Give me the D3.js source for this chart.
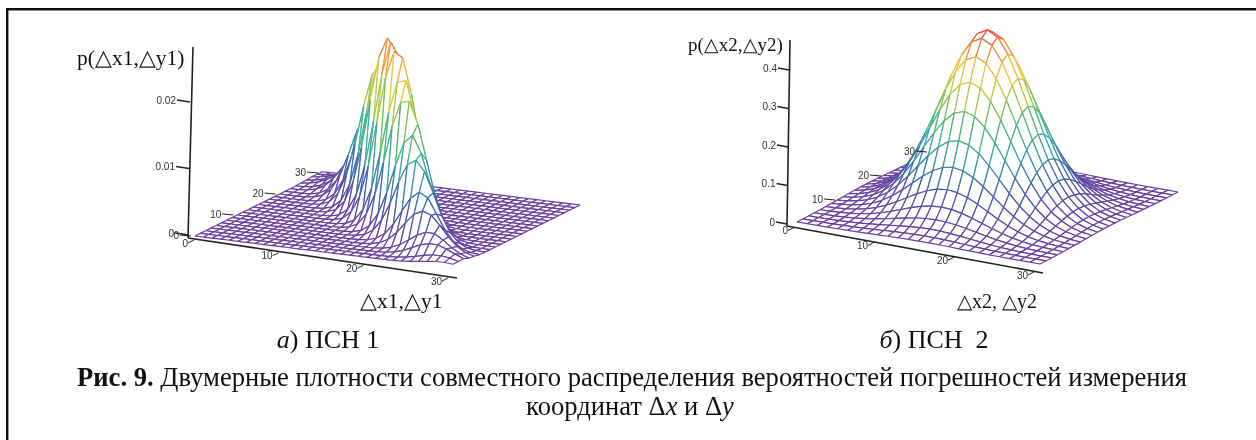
<!DOCTYPE html>
<html>
<head>
<meta charset="utf-8">
<script src="https://cdn.jsdelivr.net/npm/d3@7"></script>
<style>
  html, body { margin: 0; background: #fff; }
  svg { display: block; filter: blur(0.45px); }
  .tick { font: 10px "Liberation Sans", sans-serif; fill: #333; }
  .title { font-family: "Liberation Serif", serif; fill: #111; }
</style>
</head>
<body>
<div id="chart"></div>
<script>
// height profiles (share of the peak height)
// left surface: narrow ridge along the anti-diagonal, half-unit steps from its crest
const across1 = [1, .977, .91, .81, .69, .555, .43, .315, .22, .148, .095, .058, .034, .019, .01, .005, .002, .001];
const along1 = [1, .999, .995, .989, .98, .969, .956, .94, .923, .904, .882, .86, .835, .81, .783, .755,
  .726, .697, .667, .637, .607, .576, .546, .516, .487, .458, .43, .402, .375, .35, .325, .3,
  .278, .256, .236, .216, .198, .18, .164, .149, .135, .122, .11, .099, .089, .08, .071, .063,
  .056, .05, .044, .039, .034, .03, .026, .023, .02, .017, .015, .013, .011, .01, .008, .007, .006];
// right surface: round dome, one value per mesh line in each direction
const profileX2 = [.011, .023, .044, .08, .135, .216, .325, .458, .607, .755, .882, .969, 1,
  .969, .882, .755, .607, .458, .325, .216, .135, .08, .044, .023, .011];
const profileY2 = [.011, .023, .044, .08, .135, .216, .325, .458, .607, .755, .882, .969, 1,
  .969, .882, .755, .607, .458, .325, .216, .135, .08, .044, .023, .011];

const peak1 = 0.028;
const peak2 = 0.46;
const gridTicks = [0, 10, 20, 30];
const yTicks2 = [10, 20, 30];
const zTicks1 = [0, 0.01, 0.02];
const zTicks2 = [0, 0.1, 0.2, 0.3, 0.4];
const gridRange = 30;

// height -> colour, same ramp as the Mathcad surface
const colorRamp = ['#6a3d9e', '#5c4aa6', '#3f62aa', '#3a8fb0', '#3db59a', '#55b864', '#a3c94a', '#e8d040', '#f59a3c', '#e8493c'];

const svg = d3.select('#chart').append('svg')
  .attr('width', 1256)
  .attr('height', 440);

svg.append('path')
  .attr('d', 'M7.2,440V9.2H1256')
  .attr('fill', 'none')
  .attr('stroke', '#111')
  .attr('stroke-width', 2.4);

const nx1 = 30, ny1 = 24;
const nx2 = profileX2.length - 1, ny2 = profileY2.length - 1;

const heights1 = d3.range(nx1 + 1).map(i => d3.range(ny1 + 1).map(j => {
  let u = i * gridRange / nx1, v = j * gridRange / ny1;
  let a = across1[Math.round(2 * Math.abs(u + v - 30))] || 0;
  let b = along1[Math.round(2 * Math.abs(u - v - 2))];
  return peak1 * a * b;
}));
const heights2 = profileX2.map(px => profileY2.map(py => peak2 * px * py));

function drawPlot(cfg) {
  let g = svg.append('g').attr('class', 'plot');
  let sx = d3.scaleLinear().domain([0, cfg.nx]).range(cfg.xEdge);
  let sy = d3.scaleLinear().domain([0, cfg.ny]).range(cfg.yEdge);
  let sz = d3.scaleLinear().domain([0, cfg.zUnit]).range([0, cfg.zPixels]);
  let color = d3.scaleLinear()
    .domain(colorRamp.map((c, k) => k / (colorRamp.length - 1) * cfg.peak))
    .range(colorRamp);

  let project = (i, j) => {
    let ax = sx(i)[0], ay = sx(i)[1];
    let bx = sy(j)[0], by = sy(j)[1];
    return [cfg.origin[0] + ax + bx, cfg.origin[1] + ay + by - sz(cfg.heights[i][j])];
  };

  // axes
  g.append('line')
    .attr('x1', cfg.axisBase[0]).attr('y1', cfg.axisBase[1])
    .attr('x2', cfg.axisEnd[0]).attr('y2', cfg.axisEnd[1])
    .attr('stroke', '#222').attr('stroke-width', 1.6);
  g.append('line')
    .attr('x1', cfg.axisBase[0]).attr('y1', cfg.axisBase[1])
    .attr('x2', cfg.zTop[0]).attr('y2', cfg.zTop[1])
    .attr('stroke', '#222').attr('stroke-width', 1.6);

  // surface cells back to front, white fill hides what is behind
  let cells = [];
  for (let j = cfg.ny - 1; j >= 0; j--) {
    for (let i = 0; i < cfg.nx; i++) {
      cells.push({i, j});
    }
  }
  let line = d3.line();
  let cell = g.selectAll('.cell').data(cells).enter().append('g').attr('class', 'cell');
  cell.append('path')
    .attr('fill', '#fff')
    .attr('d', d => line([project(d.i, d.j), project(d.i + 1, d.j), project(d.i + 1, d.j + 1), project(d.i, d.j + 1)]) + 'Z');
  cell.each(function(d) {
    let corners = [[d.i, d.j], [d.i + 1, d.j], [d.i + 1, d.j + 1], [d.i, d.j + 1]];
    corners.forEach((c, k) => {
      let e = corners[(k + 1) % 4];
      d3.select(this).append('path')
        .attr('fill', 'none')
        .attr('stroke', color((cfg.heights[c[0]][c[1]] + cfg.heights[e[0]][e[1]]) / 2))
        .attr('stroke-width', 1.2)
        .attr('d', line([project(c[0], c[1]), project(e[0], e[1])]));
    });
  });

  // z ticks
  let zScale = d3.scaleLinear().domain([0, cfg.zUnit]).range([cfg.zBase, cfg.zBase - cfg.zPixels]);
  let zTick = g.selectAll('.z-tick').data(cfg.zTicks).enter().append('g').attr('class', 'z-tick');
  zTick.append('line')
    .attr('x1', d => cfg.zAxisX(d) - cfg.zTickLen).attr('x2', d => cfg.zAxisX(d))
    .attr('y1', d => zScale(d) - 1).attr('y2', d => zScale(d) + 1)
    .attr('stroke', '#222').attr('stroke-width', 1.3);
  zTick.append('text')
    .attr('class', 'tick')
    .attr('text-anchor', 'end')
    .attr('x', d => cfg.zAxisX(d) - cfg.zTickLen - 1)
    .attr('y', d => zScale(d) + 2.5)
    .text(d => d);

  // grid-axis ticks
  let xAxis = d3.scaleLinear().domain([0, gridRange]).range(cfg.xTickLine);
  let yAxis = d3.scaleLinear().domain([0, gridRange]).range(cfg.yEdge);
  g.selectAll('.x-tick').data(gridTicks).enter().append('g').attr('class', 'x-tick')
    .each(function(d) {
      let p = xAxis(d);
      let px = p[0], py = p[1];
      d3.select(this).append('line')
        .attr('x1', px).attr('y1', py)
        .attr('x2', px - 6).attr('y2', py + 3)
        .attr('stroke', '#222');
      d3.select(this).append('text')
        .attr('class', 'tick')
        .attr('text-anchor', 'end')
        .attr('x', px - 6).attr('y', py + 6.5)
        .text(d);
    });
  g.selectAll('.y-tick').data(cfg.yTicks).enter().append('g').attr('class', 'y-tick')
    .each(function(d) {
      let p = yAxis(d);
      let px = cfg.origin[0] + p[0] + cfg.yTickShift[0], py = cfg.origin[1] + p[1] + cfg.yTickShift[1];
      d3.select(this).append('line')
        .attr('x1', px - 11).attr('y1', py - 1)
        .attr('x2', px).attr('y2', py)
        .attr('stroke', '#222');
      d3.select(this).append('text')
        .attr('class', 'tick')
        .attr('text-anchor', 'end')
        .attr('x', px - 12).attr('y', py + 2.5)
        .text(d);
    });
}

drawPlot({
  heights: heights1, peak: peak1, nx: nx1, ny: ny1, zUnit: 0.01, zPixels: 66.5, zTicks: zTicks1, zBase: 234, zTickLen: 13,
  origin: [195, 236], xEdge: [[0, 0], [258, 32]], yEdge: [[0, 0], [127, -63]],
  axisBase: [188, 238], axisEnd: [457, 278], xTickLine: [[194, 240], [448, 278]], zTop: [193, 47],
  zAxisX: d => 188 + d * 100, yTicks: gridTicks, yTickShift: [-4, 0]
});
drawPlot({
  heights: heights2, peak: peak2, nx: nx2, ny: ny2, zUnit: 0.1, zPixels: 38.5, zTicks: zTicks2, zBase: 223, zTickLen: 11,
  origin: [797, 222], xEdge: [[0, 0], [243, 42]], yEdge: [[0, 0], [138, -72]],
  axisBase: [787, 226], axisEnd: [1043, 273], xTickLine: [[794, 227.5], [1034, 272]], zTop: [790, 40],
  zAxisX: d => 787 + d * 5, yTicks: yTicks2, yTickShift: [-8, 2]
});

// titles
const titles = [
  {text: 'p(△x1,△y1)', x: 77, y: 65, size: 21.5},
  {text: '△x1,△y1', x: 360, y: 308, size: 21.5},
  {text: 'p(△x2,△y2)', x: 688, y: 51, size: 19},
  {text: '△x2, △y2', x: 957, y: 308, size: 20}
];
svg.selectAll('.title').data(titles).enter().append('text')
  .attr('class', 'title')
  .attr('x', d => d.x).attr('y', d => d.y)
  .attr('font-size', d => d.size)
  .text(d => d.text);

// captions
let capA = svg.append('text').attr('class', 'title').attr('x', 328).attr('y', 348).attr('font-size', 26).attr('text-anchor', 'middle');
capA.append('tspan').attr('font-style', 'italic').text('а');
capA.append('tspan').text(') ПСН 1');
let capB = svg.append('text').attr('class', 'title').attr('x', 934).attr('y', 348).attr('font-size', 26).attr('text-anchor', 'middle');
capB.append('tspan').attr('font-style', 'italic').text('б');
capB.append('tspan').text(') ПСН\u00a0 2');
let cap1 = svg.append('text').attr('class', 'title').attr('x', 632).attr('y', 386).attr('font-size', 26.6).attr('text-anchor', 'middle');
cap1.append('tspan').attr('font-weight', 'bold').text('Рис. 9.');
cap1.append('tspan').text(' Двумерные плотности совместного распределения вероятностей погрешностей измерения');
let cap2 = svg.append('text').attr('class', 'title').attr('x', 630).attr('y', 415).attr('font-size', 26.6).attr('text-anchor', 'middle');
cap2.append('tspan').text('координат Δ');
cap2.append('tspan').attr('font-style', 'italic').text('x');
cap2.append('tspan').text(' и Δ');
cap2.append('tspan').attr('font-style', 'italic').text('y');
</script>
</body>
</html>
